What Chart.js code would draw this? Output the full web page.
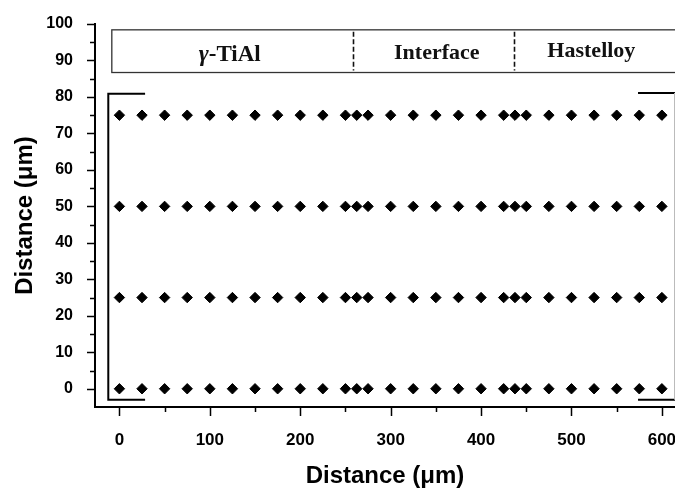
<!DOCTYPE html>
<html><head><meta charset="utf-8">
<script src="https://cdn.jsdelivr.net/npm/chart.js@4/dist/chart.umd.min.js"></script>
<style>html,body{margin:0;padding:0;background:#fff}</style>
</head><body>
<canvas id="c" width="675" height="493"></canvas>
<script>
// ---- data ----
const xPositions = [0,25,50,75,100,125,150,175,200,225,250,262.5,275,300,325,350,375,400,425,437.5,450,475,500,525,550,575,600];
const yRows = [0,25,50,75];
const xTicks = [0,100,200,300,400,500,600];
const xMinorTicks = [50,150,250,350,450,550];
const yTicks = [0,10,20,30,40,50,60,70,80,90,100];
const yMinorTicks = [5,15,25,35,45,55,65,75,85,95];
const regionLabels = ['γ-TiAl','Interface','Hastelloy'];
const regionCenters = [122,351,522];
const regionBaselines = [89.9,90.4,91];
const regionBounds = [258.4,436];
const boxRange = {x0:-8.4, x1:640, y0:86.7, y1:98.4};
const bracketLeft = {x:-12.3, xEnd:28.4, yTop:80.9, yBot:-3.0};
const bracketRight = {x:613.6, xStart:573.6, yTop:81.1, yBot:-3.0};

const points = [];
yRows.forEach(y => xPositions.forEach(x => points.push({x, y})));

const overlay = {
  id: 'overlay',
  afterDraw(chart) {
    const ctx = chart.ctx, xs = chart.scales.x, ys = chart.scales.y;
    const X = v => xs.getPixelForValue(v), Y = v => ys.getPixelForValue(v);
    ctx.save();
    // tick marks
    ctx.strokeStyle = '#000';
    ctx.lineWidth = 1.5;
    const ax = Y(ys.min), ay = X(xs.min);
    ctx.beginPath();
    xTicks.forEach(v => { const p = Math.round(X(v)) + 0.5; ctx.moveTo(p, ax); ctx.lineTo(p, ax + 9); });
    xMinorTicks.forEach(v => { const p = Math.round(X(v)) + 0.5; ctx.moveTo(p, ax); ctx.lineTo(p, ax + 5); });
    yTicks.forEach(v => { const p = Math.round(Y(v)) + 0.5; ctx.moveTo(ay, p); ctx.lineTo(ay - 8, p); });
    yMinorTicks.forEach(v => { const p = Math.round(Y(v)) + 0.5; ctx.moveTo(ay, p); ctx.lineTo(ay - 5, p); });
    ctx.stroke();
    // region box
    ctx.strokeStyle = '#333';
    ctx.lineWidth = 1.3;
    ctx.strokeRect(X(boxRange.x0), Y(boxRange.y1), X(boxRange.x1) - X(boxRange.x0), Y(boxRange.y0) - Y(boxRange.y1));
    ctx.setLineDash([5, 2.5]);
    ctx.lineWidth = 1.6;
    ctx.strokeStyle = '#111';
    ctx.beginPath();
    regionBounds.forEach(v => { const p = Math.round(X(v)) + 0.5; ctx.moveTo(p, Y(boxRange.y1) + 2); ctx.lineTo(p, Y(boxRange.y0) - 2); });
    ctx.stroke();
    ctx.setLineDash([]);
    // region labels
    ctx.fillStyle = '#111';
    ctx.textBaseline = 'alphabetic';
    ctx.textAlign = 'left';
    const serifB = 'bold 22px "Liberation Serif", "Times New Roman", serif';
    const serifBI = 'italic bold 24px "Liberation Serif", "Times New Roman", serif';
    const serifB2 = 'bold 23px "Liberation Serif", "Times New Roman", serif';
    regionLabels.forEach((lab, i) => {
      const cx = X(regionCenters[i]), by = Y(regionBaselines[i]);
      if (lab.startsWith('γ')) {
        ctx.font = serifBI;
        const w1 = ctx.measureText('γ').width;
        ctx.font = serifB2;
        const rest = lab.slice(1);
        const w2 = ctx.measureText(rest).width;
        const sx = cx - (w1 + w2) / 2;
        ctx.font = serifBI;
        ctx.fillText('γ', sx, by);
        ctx.font = serifB2;
        ctx.fillText(rest, sx + w1, by);
      } else {
        ctx.font = serifB;
        const w = ctx.measureText(lab).width;
        ctx.fillText(lab, cx - w / 2, by);
      }
    });
    // brackets
    ctx.strokeStyle = '#000';
    ctx.lineWidth = 2;
    ctx.beginPath();
    ctx.moveTo(X(bracketLeft.xEnd), Y(bracketLeft.yTop));
    ctx.lineTo(X(bracketLeft.x), Y(bracketLeft.yTop));
    ctx.lineTo(X(bracketLeft.x), Y(bracketLeft.yBot));
    ctx.lineTo(X(bracketLeft.xEnd), Y(bracketLeft.yBot));
    ctx.stroke();
    ctx.beginPath();
    ctx.moveTo(X(bracketRight.xStart), Y(bracketRight.yTop));
    ctx.lineTo(X(bracketRight.x) + 2, Y(bracketRight.yTop));
    ctx.moveTo(X(bracketRight.xStart), Y(bracketRight.yBot));
    ctx.lineTo(X(bracketRight.x) + 2, Y(bracketRight.yBot));
    ctx.stroke();
    ctx.strokeStyle = '#bbb';
    ctx.lineWidth = 1;
    ctx.beginPath();
    ctx.moveTo(Math.round(X(bracketRight.x)) + 0.5, Y(bracketRight.yTop));
    ctx.lineTo(Math.round(X(bracketRight.x)) + 0.5, Y(bracketRight.yBot));
    ctx.stroke();
    ctx.restore();
  }
};

new Chart(document.getElementById('c'), {
  type: 'scatter',
  data: {
    datasets: [{
      data: points,
      pointStyle: 'rectRot',
      pointRadius: 5.2,
      pointHoverRadius: 5.2,
      borderWidth: 1,
      backgroundColor: '#000',
      borderColor: '#000'
    }]
  },
  options: {
    responsive: false,
    animation: false,
    devicePixelRatio: 1,
    layout: { autoPadding: false, padding: { top: 24, right: 0, bottom: 0, left: 0 } },
    plugins: { legend: { display: false }, tooltip: { enabled: false } },
    scales: {
      x: {
        type: 'linear',
        min: -27, max: 614.5,
        afterBuildTicks: s => { s.ticks = xTicks.map(v => ({ value: v })); },
        afterFit: s => { s.height = 86; s.paddingLeft = 0; s.paddingRight = 0; },
        grid: { display: false, drawTicks: false },
        border: { display: true, color: '#000', width: 2 },
        ticks: { autoSkip: false, maxRotation: 0, padding: 23, color: '#000',
                 font: { family: 'Arial, "Liberation Sans", sans-serif', size: 17, weight: 'bold' } },
        title: { display: true, text: 'Distance (μm)', color: '#000',
                 padding: { top: 0, bottom: 2 },
                 font: { family: 'Arial, "Liberation Sans", sans-serif', size: 24, weight: 'bold' } }
      },
      y: {
        type: 'linear',
        min: -5, max: 100,
        afterBuildTicks: s => { s.ticks = yTicks.map(v => ({ value: v })); },
        afterFit: s => { s.width = 95; s.paddingTop = 0; s.paddingBottom = 0; },
        grid: { display: false, drawTicks: false },
        border: { display: true, color: '#000', width: 2 },
        ticks: { autoSkip: false, padding: 22, color: '#000',
                 font: { family: 'Arial, "Liberation Sans", sans-serif', size: 16, weight: 'bold' } },
        title: { display: true, text: 'Distance (μm)', color: '#000',
                 padding: { top: 11, bottom: 0 },
                 font: { family: 'Arial, "Liberation Sans", sans-serif', size: 24, weight: 'bold' } }
      }
    }
  },
  plugins: [overlay]
});
</script>
</body></html>
